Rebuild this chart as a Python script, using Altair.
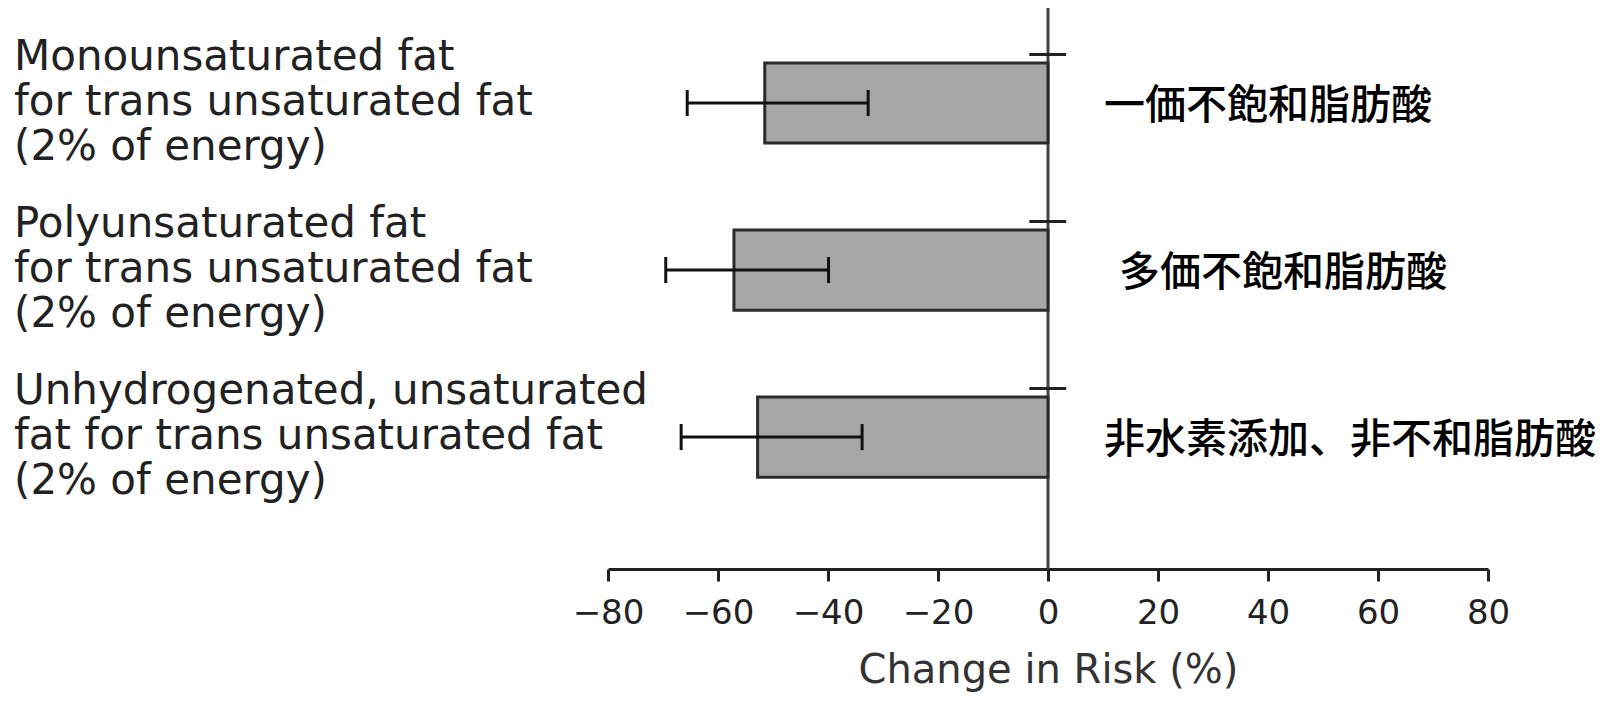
import altair as alt
import pandas as pd

# ---- data ----
categories = [
    "Monounsaturated fat\nfor trans unsaturated fat\n(2% of energy)",
    "Polyunsaturated fat\nfor trans unsaturated fat\n(2% of energy)",
    "Unhydrogenated, unsaturated\nfat for trans unsaturated fat\n(2% of energy)",
]
jp_labels = ["一価不飽和脂肪酸", "多価不飽和脂肪酸", "非水素添加、非不和脂肪酸"]
change_in_risk = [-51.5, -57.1, -52.8]
ci_low = [-65.6, -69.5, -66.7]
ci_high = [-32.7, -39.9, -33.8]
x_ticks = [-80, -60, -40, -20, 0, 20, 40, 60, 80]

df = pd.DataFrame({
    "idx": list(range(len(categories))),
    "label": categories,
    "jp": jp_labels,
    "value": change_in_risk,
    "lo": ci_low,
    "hi": ci_high,
})

W, H = 880, 561
xscale = alt.Scale(domain=[-80, 80], nice=False, zero=False)
yscale = alt.Scale(domain=[-0.569, 2.790], nice=False, zero=False, reverse=True)

x_axis = alt.Axis(
    values=x_ticks, grid=False, domainColor="#222", domainWidth=3,
    tickColor="#222", tickWidth=3, tickSize=12, labelPadding=15,
    labelFlush=False, labelOverlap=False,
    labelFont="DejaVu Sans", labelFontSize=34, labelColor="#222",
    title="Change in Risk (%)", titleFont="DejaVu Sans", titleFontSize=40,
    titleFontWeight="normal", titleColor="#333", titlePadding=20,
)

base = alt.Chart(df)
ynone = dict(scale=yscale, axis=None)

bars = base.transform_calculate(
    y0="datum.idx - 0.24", y1="datum.idx + 0.24"
).mark_rect(fill="#a6a6a6", stroke="#2b2b2b", strokeWidth=3).encode(
    x=alt.X("value:Q", scale=xscale, axis=x_axis),
    x2=alt.datum(0),
    y=alt.Y("y0:Q", **ynone),
    y2="y1:Q",
)

zero_line = alt.Chart(pd.DataFrame({"z": [0]})).mark_rule(
    color="#444", strokeWidth=3
).encode(
    x=alt.X("z:Q", scale=xscale),
    y=alt.value(0),
    y2=alt.value(H),
)

err = base.mark_rule(color="#111", strokeWidth=3).encode(
    x=alt.X("lo:Q", scale=xscale),
    x2="hi:Q",
    y=alt.Y("idx:Q", **ynone),
)

cap_lo = base.transform_calculate(
    c0="datum.idx - 0.078", c1="datum.idx + 0.078"
).mark_rule(color="#111", strokeWidth=3).encode(
    x=alt.X("lo:Q", scale=xscale),
    y=alt.Y("c0:Q", **ynone),
    y2="c1:Q",
)
cap_hi = base.transform_calculate(
    c0="datum.idx - 0.078", c1="datum.idx + 0.078"
).mark_rule(color="#111", strokeWidth=3).encode(
    x=alt.X("hi:Q", scale=xscale),
    y=alt.Y("c0:Q", **ynone),
    y2="c1:Q",
)

zero_tick = base.transform_calculate(
    t="datum.idx - 0.29"
).mark_rule(color="#222", strokeWidth=3).encode(
    x=alt.datum(-3.4, scale=xscale),
    x2=alt.datum(3.3),
    y=alt.Y("t:Q", **ynone),
)

left_labels = base.mark_text(
    align="left", baseline="middle", font="DejaVu Sans", fontSize=42,
    lineHeight=45, lineBreak="\n", color="#222", dy=-46,
).encode(
    x=alt.value(-594),
    y=alt.Y("idx:Q", **ynone),
    text="label:N",
)

jp_main = base.transform_filter("datum.idx != 1").mark_text(
    align="left", baseline="middle", font="Noto Sans CJK JP", fontSize=41,
    fontWeight=500, color="#000", dy=4,
).encode(
    x=alt.value(496),
    y=alt.Y("idx:Q", **ynone),
    text="jp:N",
)
jp_second = base.transform_filter("datum.idx == 1").mark_text(
    align="left", baseline="middle", font="Noto Sans CJK JP", fontSize=41,
    fontWeight=500, color="#000", dy=4,
).encode(
    x=alt.value(511),
    y=alt.Y("idx:Q", **ynone),
    text="jp:N",
)

chart = alt.layer(
    zero_line, bars, err, cap_lo, cap_hi, zero_tick, left_labels, jp_main, jp_second
).properties(
    width=W, height=H,
    autosize=alt.AutoSizeParams(type="none"),
    padding={"left": 600, "top": 0, "right": 107, "bottom": 125},
).configure_view(stroke=None)

chart.save("out.html", embed_options={"renderer": "svg", "actions": False})
